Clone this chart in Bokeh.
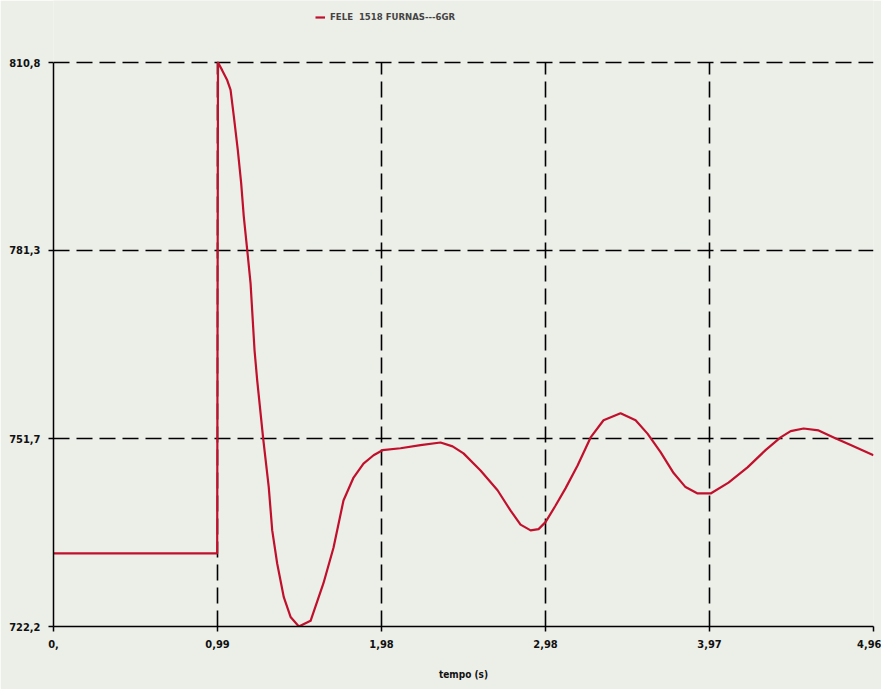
from bokeh.plotting import figure
from bokeh.models import Range1d, FixedTicker, Legend, LegendItem
from bokeh.embed import file_html
from bokeh.resources import INLINE

# data
tempo = [0.0, 0.99, 0.995, 1.020, 1.051, 1.071, 1.091, 1.115, 1.135, 1.151, 1.172,
         1.192, 1.216, 1.232, 1.268, 1.302, 1.323, 1.353, 1.393, 1.434, 1.484,
         1.555, 1.633, 1.694, 1.754, 1.815, 1.875, 1.936, 1.990, 2.099, 2.220,
         2.341, 2.414, 2.480, 2.583, 2.686, 2.765, 2.825, 2.886, 2.934, 2.976,
         3.037, 3.097, 3.170, 3.249, 3.327, 3.430, 3.521, 3.593, 3.672, 3.751,
         3.823, 3.896, 3.975, 4.083, 4.198, 4.307, 4.398, 4.459, 4.537, 4.628,
         4.719, 4.822, 4.960]
valor = [733.7, 733.7, 810.8, 809.6, 808.0, 806.5, 802.3, 797.0, 791.9, 786.6, 781.3,
         776.1, 765.6, 760.9, 751.8, 744.1, 737.3, 732.1, 726.8, 723.7, 722.2,
         723.1, 729.0, 734.6, 742.0, 745.6, 747.8, 749.1, 749.9, 750.2, 750.7,
         751.1, 750.5, 749.4, 746.7, 743.6, 740.4, 738.2, 737.3, 737.5, 738.6,
         741.2, 743.9, 747.5, 751.9, 754.6, 755.7, 754.6, 752.5, 749.6, 746.3,
         744.1, 743.1, 743.1, 744.8, 747.2, 749.9, 751.9, 752.9, 753.3, 753.0,
         751.9, 750.7, 749.1]
x_ticks = [0.0, 0.992, 1.984, 2.976, 3.968, 4.96]
x_labels = ["0,", "0,99", "1,98", "2,98", "3,97", "4,96"]
y_ticks = [722.2, 751.733, 781.267, 810.8]
y_labels = ["722,2", "751,7", "781,3", "810,8"]
serie_nome = "FELE  1518 FURNAS---6GR"

BG = "#eceee8"
FONT = "DejaVu Sans Condensed"

y_min, y_max = y_ticks[0], y_ticks[-1]
# frame extends to the top of the page so the legend can sit above the plotted box
y_top = y_min + (y_max - y_min) * 626.0 / 564.0

p = figure(width=881, height=689, output_backend="svg", toolbar_location=None,
           x_range=Range1d(x_ticks[0], x_ticks[-1]), y_range=Range1d(y_min, y_top),
           min_border_left=53, min_border_right=8, min_border_top=0, min_border_bottom=63)
p.background_fill_color = BG
p.border_fill_color = BG
p.outline_line_color = None

r = p.line(tempo, valor, line_color="#c0102c", line_width=2.2, line_join="round")

p.xaxis.ticker = FixedTicker(ticks=x_ticks)
p.yaxis.ticker = FixedTicker(ticks=y_ticks)
p.xaxis.major_label_overrides = {t: l for t, l in zip(x_ticks, x_labels)}
p.yaxis.major_label_overrides = {t: l for t, l in zip(y_ticks, y_labels)}
p.yaxis.bounds = (y_min, y_max)
p.xaxis.axis_label = "tempo (s)"

for ax in (p.xaxis, p.yaxis):
    ax.axis_line_color = "black"
    ax.axis_line_width = 1.5
    ax.major_tick_line_color = "black"
    ax.major_tick_line_width = 1.5
    ax.major_tick_in = 0
    ax.major_tick_out = 5
    ax.minor_tick_line_color = None
    ax.major_label_text_font = FONT
    ax.major_label_text_font_style = "bold"
    ax.major_label_text_font_size = "11px"
    ax.major_label_text_color = "#111111"
    ax.axis_label_text_font = FONT
    ax.axis_label_text_font_style = "bold"
    ax.axis_label_text_font_size = "10px"
    ax.axis_label_text_color = "#111111"
p.xaxis.major_label_standoff = 8
p.yaxis.major_label_standoff = 8
p.xaxis.axis_label_standoff = 18

for g in (p.xgrid, p.ygrid):
    g.grid_line_color = "black"
    g.grid_line_width = 1.6
    g.grid_line_dash = "16 7"
p.xgrid.cross_bounds = (y_min, y_max)

legend = Legend(items=[LegendItem(label=serie_nome, renderers=[r])],
                location=(262, 604), orientation="horizontal",
                background_fill_alpha=0, border_line_color=None,
                label_text_font=FONT, label_text_font_style="bold",
                label_text_font_size="9.5px", glyph_width=10, glyph_height=8,
                padding=0, margin=0, label_standoff=5)
p.add_layout(legend, "center")

open("out.html", "w").write(file_html(p, INLINE))
